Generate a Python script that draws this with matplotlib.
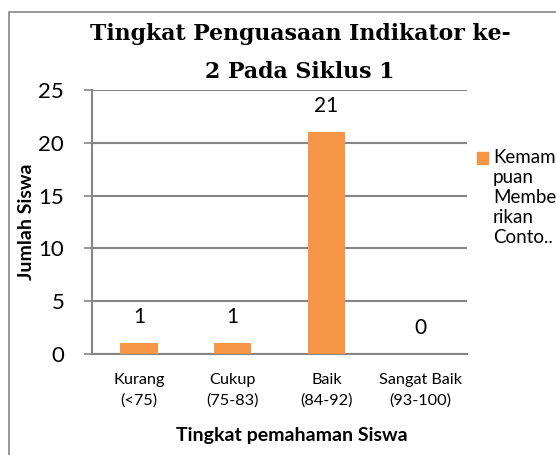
import matplotlib.pyplot as plt
from matplotlib.patches import Rectangle

categories = ['Kurang\n(<75)', 'Cukup\n(75-83)', 'Baik\n(84-92)', 'Sangat Baik\n(93-100)']
values = [1, 1, 21, 0]
series_name = 'Kemam\npuan\nMembe\nrikan\nConto..'
yticks = [0, 5, 10, 15, 20, 25]

orange = '#F79646'
grey = '#868686'
sans = ['Lato', 'DejaVu Sans']

W, H = 556, 455
fig = plt.figure(figsize=(W / 100, H / 100), dpi=100)

# chart frame (cut by the image edge on the right and bottom)
fig.patches.append(Rectangle((9 / W, -0.1), 1.2, 1.1 - 12 / H, transform=fig.transFigure,
                             fill=False, edgecolor=grey, linewidth=1.2))

ax = fig.add_axes([92 / W, 1 - 354 / H, (467 - 92) / W, (354 - 90) / H])
x = range(len(categories))
bars = ax.bar(x, values, width=0.4, color=orange, zorder=3)
for xi, v in zip(x, values):
    ax.annotate(str(v), (xi, v), xytext=(0, 19), textcoords='offset points',
                ha='center', va='center', fontsize=15, family=sans)

ax.set_xlim(-0.5, len(categories) - 0.5)
ax.set_ylim(0, 25)
ax.set_yticks(yticks)
ax.set_yticklabels([str(t) for t in yticks], fontsize=16, family=sans)
ax.set_xticks(list(x))
ax.set_xticklabels(categories, fontsize=11.7, family=sans, linespacing=1.55)
ax.tick_params(axis='x', length=0, pad=14)
ax.tick_params(axis='y', length=6, width=1.2, color=grey, pad=14)
ax.yaxis.grid(True, color=grey, linewidth=1.5, zorder=0)
for s in ['top', 'right']:
    ax.spines[s].set_visible(False)
for s in ['left', 'bottom']:
    ax.spines[s].set_color(grey)
    ax.spines[s].set_linewidth(1.5)

fig.text(292 / W, 1 - 435 / H, 'Tingkat pemahaman Siswa', ha='center', va='center',
         fontsize=14, fontweight='bold', family=sans)
fig.text(27 / W, 1 - 222 / H, 'Jumlah Siswa', rotation=90, ha='center', va='center',
         fontsize=14, fontweight='bold', family=sans)

fig.text(300 / W, 1 - 53 / H, 'Tingkat Penguasaan Indikator ke-\n2 Pada Siklus 1',
         ha='center', va='center', fontsize=15.8, fontweight='bold',
         family=['DejaVu Serif'], linespacing=1.9)

# legend
fig.patches.append(Rectangle((477 / W, 1 - 164 / H), 11 / W, 12 / H, transform=fig.transFigure,
                             color=orange))
fig.text(493 / W, 1 - 149 / H, series_name, ha='left', va='top', fontsize=13.5,
         family=sans, linespacing=1.22)

fig.savefig('out.png', dpi=100)
